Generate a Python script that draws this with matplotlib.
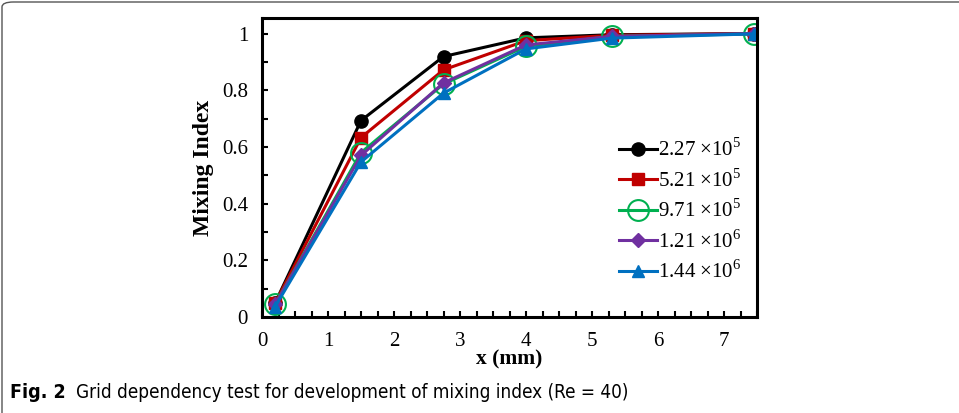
import matplotlib
matplotlib.use("Agg")
import matplotlib.pyplot as plt
from matplotlib.patches import FancyBboxPatch
from matplotlib.ticker import MultipleLocator

plt.rcParams['font.family'] = ['Liberation Serif', 'DejaVu Serif']
plt.rcParams['mathtext.fontset'] = 'custom'
plt.rcParams['mathtext.rm'] = 'Liberation Serif'

# distance along the channel (mm)
x_mm = [0.2, 1.5, 2.75, 4.0, 5.3, 7.45]

# mixing index for each grid size
mi_227e5 = [0.050, 0.693, 0.919, 0.985, 0.996, 1.000]
mi_521e5 = [0.050, 0.633, 0.872, 0.975, 0.994, 1.000]
mi_971e5 = [0.045, 0.580, 0.822, 0.955, 0.990, 0.999]
mi_121e6 = [0.045, 0.570, 0.826, 0.960, 0.990, 1.000]
mi_144e6 = [0.037, 0.547, 0.790, 0.946, 0.984, 0.999]

grid_labels = [r'2.27 $\times$10$^5$', r'5.21 $\times$10$^5$', r'9.71 $\times$10$^5$',
               r'1.21 $\times$10$^6$', r'1.44 $\times$10$^6$']

fig = plt.figure(figsize=(9.59, 4.13), dpi=100)
ax = fig.add_axes([262 / 959, 96 / 413, 495 / 959, 299 / 413])

ax.plot(x_mm, mi_227e5, color='black', lw=2.2, marker='o', ms=9.5, label=grid_labels[0])
ax.plot(x_mm, mi_521e5, color='#C00000', lw=2.2, marker='s', ms=8.5, label=grid_labels[1])
ax.plot(x_mm, mi_971e5, color='#00B050', lw=2.2, marker='o', ms=15, mfc='none', mew=1.5,
        label=grid_labels[2])
ax.plot(x_mm, mi_121e6, color='#7030A0', lw=2.2, marker='D', ms=7, label=grid_labels[3])
ax.plot(x_mm, mi_144e6, color='#0070C0', lw=2.2, marker='^', ms=9, label=grid_labels[4])

ax.set_xlim(0, 7.5)
ax.set_ylim(0, 1.055)
ax.xaxis.set_major_locator(MultipleLocator(1))
ax.xaxis.set_minor_locator(MultipleLocator(0.25))
ax.yaxis.set_minor_locator(MultipleLocator(0.1))
ax.set_yticks([0, 0.2, 0.4, 0.6, 0.8, 1.0])
ax.set_yticklabels(['0', '0.2', '0.4', '0.6', '0.8', '1'])
ax.tick_params(which='both', direction='in', length=4, width=1.5, labelsize=15,
               top=False, right=False)
ax.tick_params(axis='y', pad=10)
ax.tick_params(axis='x', pad=11)
for sp in ax.spines.values():
    sp.set_linewidth(2.2)

ax.set_xlabel('x (mm)', fontsize=15.5, fontweight='bold', labelpad=-1)
ax.set_ylabel('Mixing Index', fontsize=17, fontweight='bold', labelpad=6)

ax.legend(loc='upper left', bbox_to_anchor=(0.705, 0.625), frameon=False, fontsize=15,
          handlelength=1.8, handletextpad=0.05, labelspacing=0.38, borderaxespad=0)

# caption under the chart
fig.text(10 / 959, 15 / 413, 'Fig. 2', fontsize=14, fontweight='bold',
         family=['DejaVu Sans'], fontstretch='condensed', va='baseline')
fig.text(76 / 959, 15 / 413, 'Grid dependency test for development of mixing index (Re = 40)',
         fontsize=13.6, family=['DejaVu Sans'], fontstretch='condensed', va='baseline')

# rounded frame around the figure
frame = FancyBboxPatch((2 / 959, -10 / 413), 975 / 959, 421 / 413,
                       boxstyle='round,pad=0,rounding_size=0.012',
                       transform=fig.transFigure, fill=False, ec='#555555', lw=1.0,
                       clip_on=False)
fig.patches.append(frame)

fig.savefig('out.png', dpi=100)
